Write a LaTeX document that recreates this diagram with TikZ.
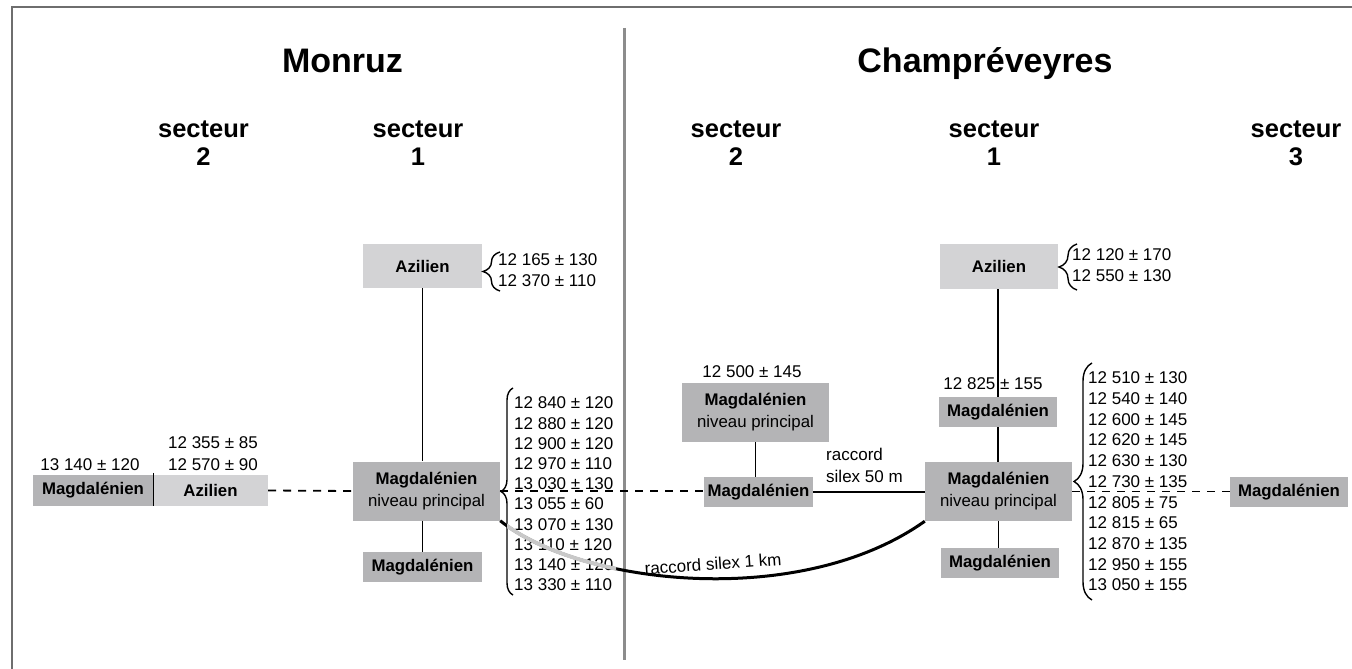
\documentclass[tikz,border=0pt]{standalone}
\usepackage{fontspec}
\setmainfont{Liberation Sans}
\usetikzlibrary{decorations.pathreplacing}
\definecolor{boxdark}{RGB}{180,180,182}
\definecolor{boxlight}{RGB}{211,211,213}
\definecolor{divgray}{RGB}{140,140,140}
\definecolor{framegray}{RGB}{110,110,110}
\definecolor{curvegray}{RGB}{200,200,200}
\begin{document}
\begin{tikzpicture}[x=1pt,y=-1pt,
  box/.style={inner sep=0pt, draw=none, font=\fontsize{16.8}{22}\selectfont\bfseries, align=center},
  dbox/.style={box, fill=boxdark},
  lbox/.style={box, fill=boxlight},
  npbox/.style={box, fill=boxdark, font=\fontsize{16.8}{22}\selectfont, minimum width=147pt, minimum height=59pt},
  num/.style={inner sep=0pt, font=\fontsize{17}{20.5}\selectfont},
  conn/.style={line width=1.8pt, black},
  dashconn/.style={line width=1.8pt, black, dash pattern=on 8pt off 7pt},
  bracestyle/.style={line width=1.4pt, decorate, decoration={brace, amplitude=#1}},
  titlefont/.style={font=\fontsize{34}{40}\selectfont\bfseries, anchor=base, inner sep=0pt},
  sectfont/.style={font=\fontsize{25.5}{28}\selectfont\bfseries, anchor=base, inner sep=0pt}
]
\fill[white] (0,0) rectangle (1352,669);
\useasboundingbox (0,0) rectangle (1352,669);

% frame and divider
\draw[framegray, line width=2pt] (1352,7) -- (12,7) -- (12,669);
\draw[divgray, line width=3pt] (624,28) -- (624,660);

% titles
\node[titlefont] (tMon) at (342.5,73) {Monruz};
\node[titlefont] (tCha) at (985,73) {Champréveyres};

% secteurs
\node[sectfont] (sA) at (203.5,137) {secteur};
\node[sectfont] (sAn) at (203.5,165) {2};
\node[sectfont] (sB) at (418,137) {secteur};
\node[sectfont] (sBn) at (418,165) {1};
\node[sectfont] (sC) at (736,137) {secteur};
\node[sectfont] (sCn) at (736,165) {2};
\node[sectfont] (sD) at (994,137) {secteur};
\node[sectfont] (sDn) at (994,165) {1};
\node[sectfont] (sE) at (1296,137) {secteur};
\node[sectfont] (sEn) at (1296,165) {3};

% ---- Monruz secteur 2
\node[dbox, minimum width=120pt, minimum height=31pt] (lMag) at (93,490.5) {Magdalénien};
\node[lbox, minimum width=115pt, minimum height=31pt] (lAz) at (210.5,490.5) {Azilien};
\draw[line width=1.4pt] ([yshift=2pt]lMag.north east) -- (lMag.south east);
\node[num] (d1) at (90,465) {13 140 ± 120};
\node[num] (d2) at (213,443) {12 355 ± 85};
\node[num] (d3) at (213,465) {12 570 ± 90};

% ---- Monruz secteur 1
\node[lbox, minimum width=119pt, minimum height=44pt] (mAz) at (422.5,266) {Azilien};
\node[npbox] (mNP) at (426.5,491) {\textbf{Magdalénien}\\niveau principal};
\node[dbox, minimum width=119pt, minimum height=30pt] (mMag) at (422.5,567) {Magdalénien};
\draw[conn] (mAz.south) -- (mAz.south |- mNP.north);
\draw[conn] (mMag.north |- mNP.south) -- (mMag.north);

\node[num, anchor=west, align=left, font=\fontsize{17}{21}\selectfont] (mAzL) at (498,270.5) {12 165 ± 130\\12 370 ± 110};
\coordinate (mbs1) at (500,291);
\coordinate (mbs2) at (500,252);
\draw[bracestyle=17pt] (mbs1) -- (mbs2);

\node[num, anchor=west, align=left, font=\fontsize{17}{20.22}\selectfont] (mNPL) at (514,494) {12 840 ± 120\\12 880 ± 120\\12 900 ± 120\\12 970 ± 110\\13 030 ± 130\\13 055 ± 60\\13 070 ± 130\\13 110 ± 120\\13 140 ± 120\\13 330 ± 110};
\coordinate (mb1) at (513,595);
\coordinate (mb2) at (513,388);
\draw[bracestyle=12pt] (mb1) -- (mb2);

% ---- Champreveyres secteur 2
\node[num] (c2d) at (752,372) {12 500 ± 145};
\node[npbox] (c2NP) at (755.5,412.5) {\textbf{Magdalénien}\\niveau principal};
\node[dbox, minimum width=109pt, minimum height=30pt] (c2Mag) at (758.5,492) {Magdalénien};
\draw[conn] (c2NP.south) -- (c2NP.south |- c2Mag.north);
\node[num, anchor=west, align=left, font=\fontsize{17}{22}\selectfont] (rac) at (826,465) {raccord\\silex 50 m};

% ---- Champreveyres secteur 1
\node[lbox, minimum width=118pt, minimum height=45pt] (cAz) at (999,266.5) {Azilien};
\node[num] (c1d) at (993,384) {12 825 ± 155};
\node[dbox, minimum width=118pt, minimum height=30pt] (cMag1) at (998,412) {Magdalénien};
\node[npbox] (cNP) at (998.5,491.5) {\textbf{Magdalénien}\\niveau principal};
\node[dbox, minimum width=118pt, minimum height=30pt] (cMag2) at (1000,563) {Magdalénien};
\draw[conn] (cMag1.north |- cAz.south) -- (cMag1.north);
\draw[conn] (cMag1.south) -- (cMag1.south |- cNP.north);
\draw[conn] (cNP.south) -- (cNP.south |- cMag2.north);

\node[num, anchor=west, align=left, font=\fontsize{17}{21}\selectfont] (cAzL) at (1072,265.5) {12 120 ± 170\\12 550 ± 130};
\coordinate (cbs1) at (1077,290);
\coordinate (cbs2) at (1077,244);
\draw[bracestyle=18pt] (cbs1) -- (cbs2);

\node[num, anchor=west, align=left, font=\fontsize{17}{20.7}\selectfont] (cNPL) at (1088,481.5) {12 510 ± 130\\12 540 ± 140\\12 600 ± 145\\12 620 ± 145\\12 630 ± 130\\12 730 ± 135\\12 805 ± 75\\12 815 ± 65\\12 870 ± 135\\12 950 ± 155\\13 050 ± 155};
\coordinate (cb1) at (1092,600);
\coordinate (cb2) at (1092,363);
\draw[bracestyle=18pt] (cb1) -- (cb2);

% ---- Champreveyres secteur 3
\node[dbox, minimum width=118pt, minimum height=30pt] (rMag) at (1289,492) {Magdalénien};

% links
\draw[dashconn] (lAz.east) -- (mNP.west);
\draw[dashconn] (mNP.east) -- (mNP.east -| c2Mag.west);
\draw[conn] (c2Mag.east) -- (c2Mag.east -| cNP.west);
\draw[dashconn] (cNP.east) -- (cNP.east -| rMag.west);

% raccord silex 1 km
\draw[line width=3pt] (mNP.south east) .. controls (580,585) and (800,610) .. (cNP.south west);
\begin{scope}
  \clip (507,0) rectangle (616,669);
  \draw[curvegray, line width=3.8pt] (mNP.south east) .. controls (580,585) and (800,610) .. (cNP.south west);
\end{scope}
\node[num, rotate=4] (r1k) at (713,564) {raccord silex 1 km};
\end{tikzpicture}
\end{document}
